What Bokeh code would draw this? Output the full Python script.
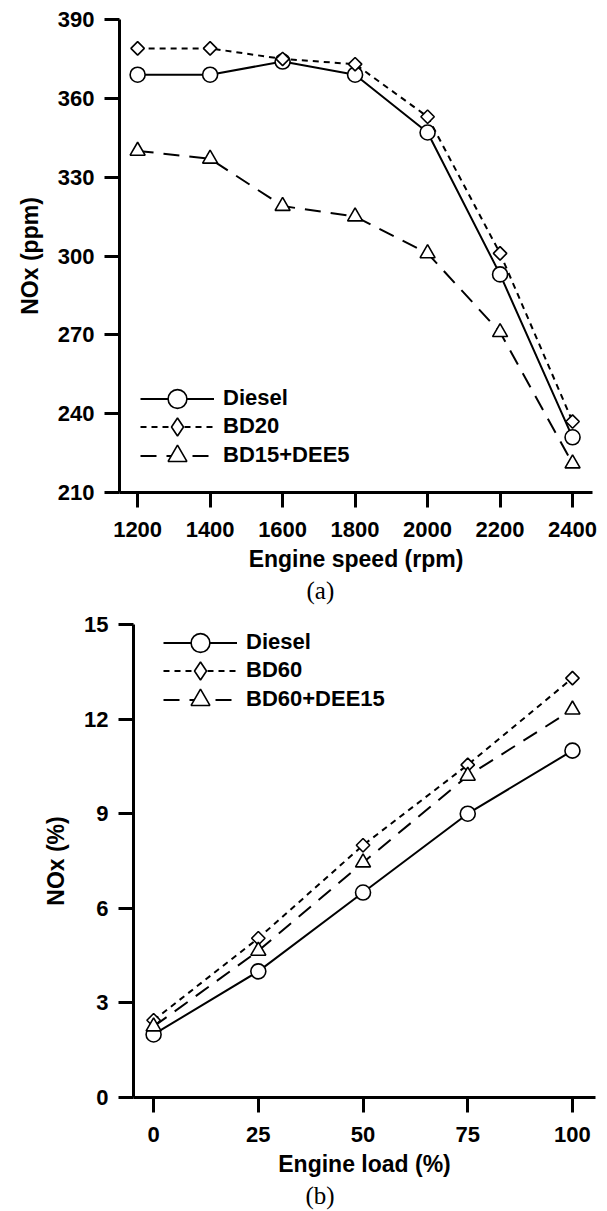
import math

from bokeh.embed import file_html
from bokeh.models import FixedTicker, Legend, LegendItem, Range1d, Title
from bokeh.plotting import figure
from bokeh.resources import INLINE

# ---- data -------------------------------------------------------------
speed_rpm = [1200, 1400, 1600, 1800, 2000, 2200, 2400]
nox_speed_diesel = [369, 369, 374, 369, 347, 293, 231]
nox_speed_bd20 = [379, 379, 375, 373, 353, 301, 237]
nox_speed_bd15_dee5 = [340, 337, 319, 315, 301, 271, 221]

load_pct = [0, 25, 50, 75, 100]
nox_load_diesel = [2.0, 4.0, 6.5, 9.0, 11.0]
nox_load_bd60 = [2.45, 5.05, 8.0, 10.55, 13.3]
nox_load_bd60_dee15 = [2.25, 4.65, 7.45, 10.2, 12.3]

speed_ticks = [1200, 1400, 1600, 1800, 2000, 2200, 2400]
speed_nox_ticks = [210, 240, 270, 300, 330, 360, 390]
load_ticks = [0, 25, 50, 75, 100]
load_nox_ticks = [0, 3, 6, 9, 12, 15]

SANS = "Liberation Sans"
SERIF = "Liberation Serif"

# line dash, data marker, marker size, marker angle, legend marker, legend glyph height
STYLES = [
    dict(dash="solid", marker="circle", size=15, angle=0.0, key="circle", gh=47),
    dict(dash="6 5", marker="square", size=9.5, angle=math.pi / 4, key="diamond", gh=45),
    dict(dash="16 10", marker="triangle", size=15, angle=0.0, key="triangle", gh=47),
]


def style_axis(ax, label, label_standoff, title_standoff):
    ax.axis_label = label
    ax.axis_line_width = 3
    ax.axis_line_color = "black"
    ax.major_tick_line_width = 3
    ax.major_tick_line_color = "black"
    ax.major_tick_out = 15
    ax.major_tick_in = 0
    ax.minor_tick_out = 0
    ax.minor_tick_in = 0
    ax.major_label_text_font = SANS
    ax.major_label_text_font_style = "bold"
    ax.major_label_text_font_size = "22px"
    ax.major_label_text_color = "black"
    ax.major_label_standoff = label_standoff
    ax.axis_label_text_font = SANS
    ax.axis_label_text_font_style = "bold"
    ax.axis_label_text_font_size = "23px"
    ax.axis_label_text_color = "black"
    ax.axis_label_standoff = title_standoff


def panel(x, series, names, x_ticks, y_ticks, x_range, y_range,
          x_label, y_label, caption, caption_offset, left, right, top, bottom,
          legend_x, legend_centers):
    p = figure(
        width=607, height=top + 473 + bottom,
        x_range=Range1d(*x_range), y_range=Range1d(*y_range),
        min_border_left=left, min_border_right=right,
        min_border_top=top, min_border_bottom=bottom,
        output_backend="svg", toolbar_location=None,
    )
    p.grid.visible = False
    p.outline_line_color = None
    p.background_fill_color = "white"
    p.border_fill_color = "white"

    style_axis(p.xaxis[0], x_label, 14, 6)
    style_axis(p.yaxis[0], y_label, 10, 12)
    p.xaxis[0].ticker = FixedTicker(ticks=x_ticks)
    p.yaxis[0].ticker = FixedTicker(ticks=y_ticks)

    for y, name, st, cy in zip(series, names, STYLES, legend_centers):
        ln = p.line(x, y, line_color="black", line_width=2, line_dash=st["dash"])
        mk = p.scatter(x, y, marker=st["marker"], size=st["size"], angle=st["angle"],
                       fill_color="white", line_color="black", line_width=1.6)
        rends = [ln, mk]
        if st["key"] != st["marker"]:
            # legend-only marker (the legend ignores marker rotation)
            key = p.scatter(x, y, marker=st["key"], size=st["size"],
                            fill_color="white", line_color="black",
                            line_width=1.6, visible=False)
            rends = [ln, key]
        h = st["gh"]
        leg = Legend(
            items=[LegendItem(label=name, renderers=rends)],
            location=(legend_x, cy - h / 2),
            glyph_width=74, glyph_height=h, label_height=20,
            label_standoff=9, padding=0, margin=0, spacing=0,
            border_line_color=None, background_fill_alpha=0,
            label_text_font=SANS, label_text_font_style="bold",
            label_text_font_size="22px", label_text_color="black",
        )
        p.add_layout(leg)

    p.add_layout(Title(text=caption, text_font=SERIF, text_font_style="normal",
                       text_font_size="25px", text_color="black",
                       align="left", offset=caption_offset, standoff=0), "below")
    return p


pa = panel(speed_rpm, [nox_speed_diesel, nox_speed_bd20, nox_speed_bd15_dee5],
           ["Diesel", "BD20", "BD15+DEE5"], speed_ticks, speed_nox_ticks,
           (1150, 2455), (210, 390), "Engine speed (rpm)", "NOx (ppm)", "(a)", 187,
           119, 15, 19, 116, 21, [94, 66, 37])

pb = panel(load_pct, [nox_load_diesel, nox_load_bd60, nox_load_bd60_dee15],
           ["Diesel", "BD60", "BD60+DEE15"], load_ticks, load_nox_ticks,
           (-4.8, 105.5), (0, 15), "Engine load (%)", "NOx (%)", "(b)", 172,
           133, 12, 16, 114, 30, [455, 427, 398])

# two independent roots, stacked one above the other on the page
open("out.html", "w").write(file_html([pa, pb], INLINE))
